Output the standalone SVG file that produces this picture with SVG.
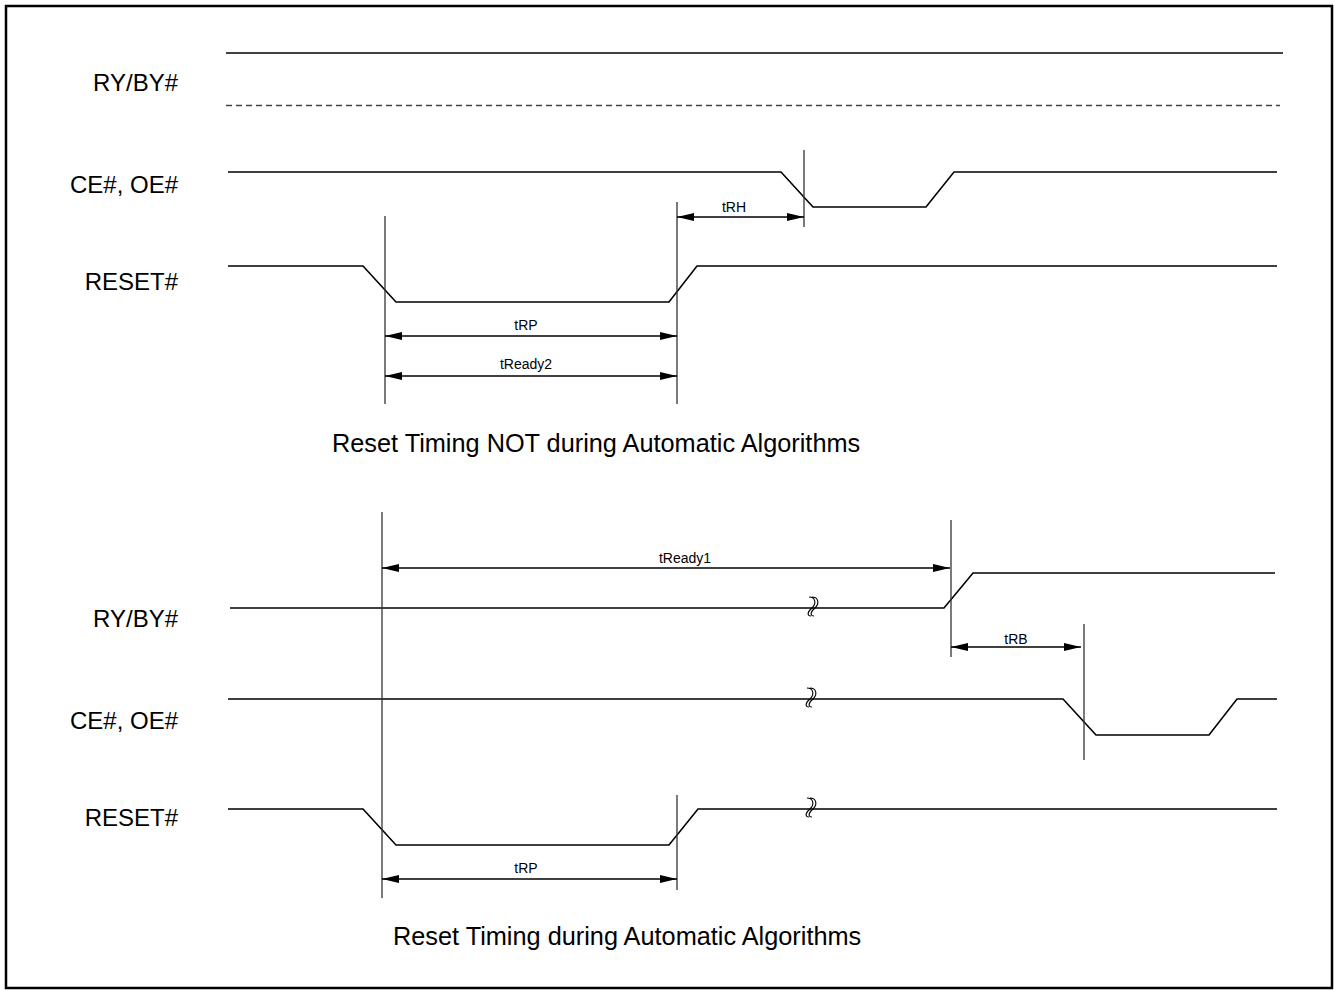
<svg xmlns="http://www.w3.org/2000/svg" width="1335" height="990" viewBox="0 0 1335 990">
<style>
.lbl{font-family:"Liberation Sans",Arial,sans-serif;font-size:24px;fill:#000;text-anchor:end}
.cap{font-family:"Liberation Sans",Arial,sans-serif;font-size:25.3px;fill:#000}
.dim{font-family:"Liberation Sans",Arial,sans-serif;font-size:14px;fill:#000;text-anchor:middle}
.sig{fill:none;stroke:#000;stroke-width:1.6;stroke-linejoin:miter}
.vl{fill:none;stroke:#333;stroke-width:1.3}
.arr{fill:none;stroke:#000;stroke-width:1.4;marker-start:url(#ah);marker-end:url(#ah)}
.brk{fill:none;stroke:#000;stroke-width:1.1}
</style>
<defs>
<marker id="ah" markerUnits="userSpaceOnUse" markerWidth="17" markerHeight="8" refX="17" refY="4" orient="auto-start-reverse" viewBox="0 0 17 8">
<path d="M0,0 L17,4 L0,8 z" fill="#000"/>
</marker>
<path id="brk" class="brk" d="M-3,-11 C3,-11 5,-5 0,0 C-5,4 -5,8 -1,8 M0,-11 C6,-11 8,-5 3,0 C-2,4 -2,8 2,8"/>
</defs>
<rect x="6" y="6" width="1326" height="982" fill="#fff" stroke="#000" stroke-width="2.5"/>

<g id="top-rybusy">
<text class="lbl" x="178" y="91">RY/BY#</text>
<line class="sig" x1="226" y1="53" x2="1283" y2="53"/>
<line x1="226" y1="105.5" x2="1280" y2="105.5" stroke="#444" stroke-width="1.6" stroke-dasharray="6,4"/>
</g>
<g id="top-ce">
<text class="lbl" x="178" y="193">CE#, OE#</text>
<polyline class="sig" points="228,172 781,172 813,207 926,207 954,172 1277,172"/>
</g>
<g id="top-reset">
<text class="lbl" x="178" y="290">RESET#</text>
<polyline class="sig" points="228,266 363,266 396,302 669,302 697,266 1277,266"/>
</g>
<text id="top-caption" class="cap" x="332" y="452">Reset Timing NOT during Automatic Algorithms</text>

<g id="bot-rybusy">
<text class="lbl" x="178" y="627">RY/BY#</text>
<polyline class="sig" points="230,608 944,608 973,573 1275,573"/>
</g>
<g id="bot-ce">
<text class="lbl" x="178" y="729">CE#, OE#</text>
<polyline class="sig" points="228,699 1063,699 1096,735 1209,735 1237,699 1277,699"/>
</g>
<g id="bot-reset">
<text class="lbl" x="178" y="826">RESET#</text>
<polyline class="sig" points="228,809 363,809 396,845 669,845 698,809 1277,809"/>
</g>
<text id="bot-caption" class="cap" x="393" y="945">Reset Timing during Automatic Algorithms</text>

<g id="breaks">
<use href="#brk" x="812" y="608"/>
<use href="#brk" x="810" y="699"/>
<use href="#brk" x="810" y="809"/>
</g>

<g id="connectors">
<line class="vl" x1="804" y1="150" x2="804" y2="227"/>
<line class="vl" x1="385" y1="216" x2="385" y2="404"/>
<line class="vl" x1="677" y1="202" x2="677" y2="404"/>
<line class="arr" x1="677" y1="217" x2="804" y2="217"/>
<text class="dim" x="734" y="212">tRH</text>
<line class="arr" x1="385" y1="336" x2="677" y2="336"/>
<text class="dim" x="526" y="330">tRP</text>
<line class="arr" x1="385" y1="376" x2="677" y2="376"/>
<text class="dim" x="526" y="369">tReady2</text>

<line class="vl" x1="382" y1="512" x2="382" y2="898"/>
<line class="vl" x1="951" y1="520" x2="951" y2="657"/>
<line class="vl" x1="1084" y1="624" x2="1084" y2="760"/>
<line class="vl" x1="677" y1="795" x2="677" y2="890"/>
<line class="arr" x1="382" y1="568" x2="950" y2="568"/>
<text class="dim" x="685" y="563">tReady1</text>
<line class="arr" x1="951" y1="647" x2="1081" y2="647"/>
<text class="dim" x="1016" y="644">tRB</text>
<line class="arr" x1="382" y1="879" x2="677" y2="879"/>
<text class="dim" x="526" y="873">tRP</text>
</g>
</svg>
